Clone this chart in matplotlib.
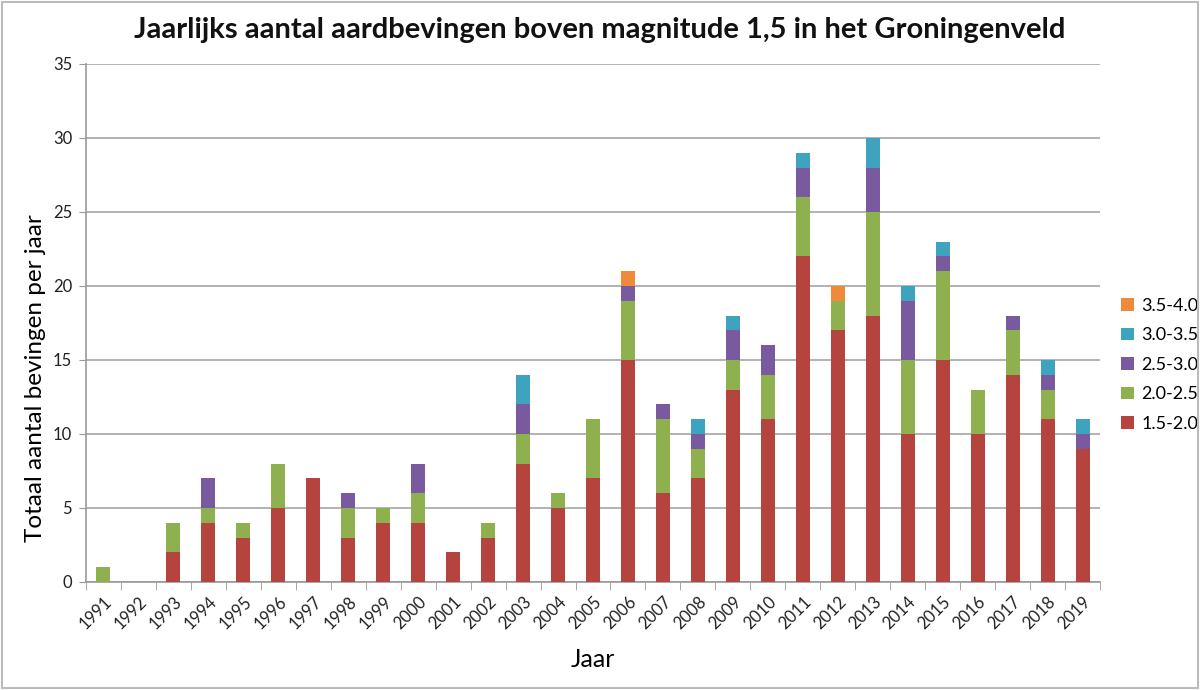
import matplotlib
matplotlib.use("Agg")
import matplotlib.pyplot as plt
from matplotlib.patches import Rectangle
import numpy as np

plt.rcParams['font.family'] = ['Lato', 'DejaVu Sans']

years = [str(y) for y in range(1991, 2020)]
m15_20 = [0, 0, 2, 4, 3, 5, 7, 3, 4, 4, 2, 3, 8, 5, 7, 15, 6, 7, 13, 11, 22, 17, 18, 10, 15, 10, 14, 11, 9]
m20_25 = [1, 0, 2, 1, 1, 3, 0, 2, 1, 2, 0, 1, 2, 1, 4, 4, 5, 2, 2, 3, 4, 2, 7, 5, 6, 3, 3, 2, 0]
m25_30 = [0, 0, 0, 2, 0, 0, 0, 1, 0, 2, 0, 0, 2, 0, 0, 1, 1, 1, 2, 2, 2, 0, 3, 4, 1, 0, 1, 1, 1]
m30_35 = [0, 0, 0, 0, 0, 0, 0, 0, 0, 0, 0, 0, 2, 0, 0, 0, 0, 1, 1, 0, 1, 0, 2, 1, 1, 0, 0, 1, 1]
m35_40 = [0, 0, 0, 0, 0, 0, 0, 0, 0, 0, 0, 0, 0, 0, 0, 1, 0, 0, 0, 0, 0, 1, 0, 0, 0, 0, 0, 0, 0]

series = [
    ("1.5-2.0", m15_20, "#B5443F"),
    ("2.0-2.5", m20_25, "#8FB04F"),
    ("2.5-3.0", m25_30, "#7A5A9E"),
    ("3.0-3.5", m30_35, "#3EA3BF"),
    ("3.5-4.0", m35_40, "#EE8A3A"),
]

fig = plt.figure(figsize=(12, 6.9), dpi=100)
ax = fig.add_axes([86/1200, 108/690, 1014/1200, 518/690])

x = np.arange(len(years))
bottom = np.zeros(len(years))
handles = []
for name, vals, col in series:
    v = np.array(vals, dtype=float)
    b = ax.bar(x, v, 0.4, bottom=bottom, color=col, label=name, zorder=3)
    handles.append(b)
    bottom += v

ax.set_xlim(-0.5, len(years) - 0.5)
ax.set_ylim(0, 35)
ax.set_yticks(range(0, 36, 5))
ax.tick_params(axis='y', labelsize=12, length=5, color='#999999', colors='#222222', pad=5)
ax.yaxis.grid(True, color='#A6A6A6', linewidth=1.2, zorder=0)
ax.set_axisbelow(True)

ax.set_xticks(x)
ax.set_xticklabels(years, rotation=45, ha='right', rotation_mode='anchor', fontsize=12, color='#222222')
ax.set_xticks(np.arange(-0.5, len(years), 1), minor=True)
ax.tick_params(axis='x', which='major', length=0, pad=8)
ax.tick_params(axis='x', which='minor', length=6, color='#999999')

for s in ['top', 'right']:
    ax.spines[s].set_visible(False)
for s in ['left', 'bottom']:
    ax.spines[s].set_color('#999999')
    ax.spines[s].set_linewidth(1.2)

ax.set_xlabel("Jaar", fontsize=18, labelpad=12)
ax.set_ylabel("Totaal aantal bevingen per jaar", fontsize=17.5)
ax.yaxis.set_label_coords(-40/1014, 0.394)
fig.text(0.5, 0.957, "Jaarlijks aantal aardbevingen boven magnitude 1,5 in het Groningenveld",
         ha='center', va='center', fontsize=21, fontweight='bold', color='#111111')

leg = ax.legend(handles=handles[::-1], labels=[s[0] for s in series][::-1],
                loc='center left', bbox_to_anchor=(1.005, 0.419), frameon=False,
                fontsize=13, handlelength=0.7, handleheight=0.7, labelspacing=0.75,
                handletextpad=0.4)

fig.patches.append(Rectangle((0.002, 0.003), 0.996, 0.994, transform=fig.transFigure,
                             fill=False, edgecolor='#BBBBBB', linewidth=1.5))

fig.savefig("out.png", dpi=100)
